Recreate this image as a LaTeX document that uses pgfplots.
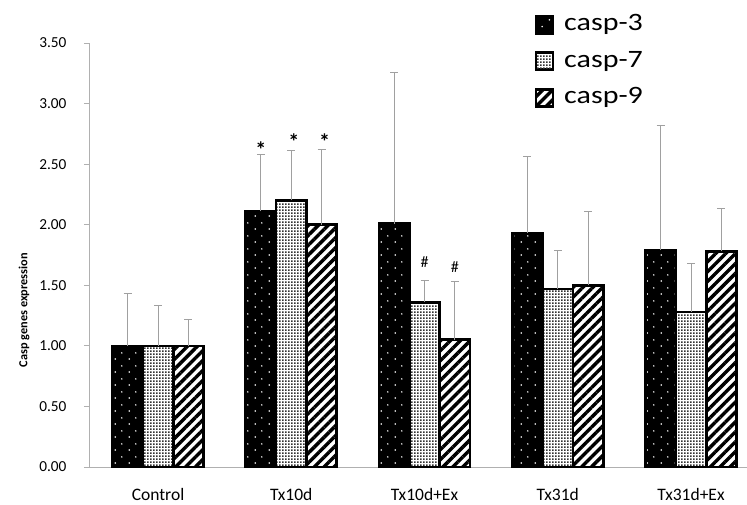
\documentclass[border=0pt]{standalone}
\usepackage{pgfplots}
\usepackage{pgfplotstable}
\pgfplotsset{compat=1.18}
\usetikzlibrary{patterns,patterns.meta}
\usepackage{fontspec}
\setmainfont{Carlito}
\newfontfamily\legfont[FakeStretch=1.2]{Carlito}

\pgfdeclarepatternformonly{sparsedots}{\pgfpointorigin}{\pgfqpoint{14pt}{13pt}}{\pgfqpoint{14pt}{13pt}}{%
  \pgfpathcircle{\pgfqpoint{3.5pt}{3.25pt}}{0.9pt}%
  \pgfpathcircle{\pgfqpoint{10.5pt}{9.75pt}}{0.9pt}%
  \pgfusepath{fill}}
\pgfdeclarepatternformonly{finegrid}{\pgfpointorigin}{\pgfqpoint{3pt}{3pt}}{\pgfqpoint{3pt}{3pt}}{%
  \pgfpathrectangle{\pgfqpoint{0pt}{0pt}}{\pgfqpoint{2pt}{2pt}}%
  \pgfusepath{fill}}

\definecolor{axgray}{HTML}{B0B0B0}
\definecolor{errgray}{HTML}{A0A0A0}

\pgfplotstableread{
x y e
0 1.00 0.43
1 2.11 0.47
2 2.01 1.25
3 1.93 0.63
4 1.79 1.03
}\caspthree
\pgfplotstableread{
x y e
0 1.00 0.33
1 2.20 0.41
2 1.36 0.18
3 1.47 0.32
4 1.28 0.40
}\caspseven
\pgfplotstableread{
x y e
0 1.00 0.22
1 2.00 0.62
2 1.05 0.48
3 1.50 0.61
4 1.78 0.35
}\caspnine

\begin{document}
\begin{tikzpicture}
\useasboundingbox (-89pt,-37pt) rectangle (658pt,467pt);
\begin{axis}[
  scale only axis, width=658pt, height=424pt,
  at={(0pt,0pt)}, anchor=south west,
  ybar=0pt, bar width=30.3pt,
  xmin=-0.518, xmax=4.42, ymin=0, ymax=3.5,
  enlargelimits=false,
  axis x line*=bottom, axis y line*=left,
  axis line style={draw=axgray, line width=0.9pt},
  xtick={0,1,2,3,4},
  xticklabels={Control,Tx10d,Tx10d+Ex,Tx31d,Tx31d+Ex},
  x tick style={draw=none},
  xticklabel style={font=\fontsize{17.5}{20}\selectfont, yshift=-13pt},
  ytick={0,0.5,1,1.5,2,2.5,3,3.5},
  y tick style={draw=axgray, line width=0.9pt},
  tick align=outside, major tick length=5pt,
  yticklabel style={font=\fontsize{15.3}{18}\selectfont, xshift=-14pt},
  /pgf/number format/.cd, fixed, fixed zerofill, precision=2, assume math mode=true,
  /pgfplots/.cd,
  ylabel={Casp genes expression},
  ylabel style={font=\bfseries\fontsize{12.3}{14}\selectfont, at={(axis description cs:-0.0988,0.37)}, anchor=center},
  legend image code/.code={\draw[#1, line width=1.8pt] (0pt,-8pt) rectangle (17pt,9pt); \path (27pt,0pt);},
  legend cell align=left,
  legend style={at={(axis description cs:0.6778,1.069)}, anchor=north west,
    draw=none, fill=none, inner sep=0pt, outer sep=0pt, row sep=13.5pt,
    font=\legfont\fontsize{25}{30}\selectfont,
    nodes={inner sep=0pt, text height=17pt, text depth=6pt}},
  every axis plot/.append style={draw=black, line width=2.7pt,
    error bars/y dir=plus, error bars/y explicit,
    error bars/error bar style={draw=errgray, line width=1pt},
    error bars/error mark options={rotate=90, mark size=4pt, draw=errgray, line width=1pt}},
]
\addplot[preaction={fill=white}, pattern=sparsedots, pattern color=white, preaction={fill=black}] table[x=x, y=y, y error=e] {\caspthree};
\addlegendentry{casp-3}
\addplot[preaction={fill=white}, pattern=finegrid, pattern color=black!80] table[x=x, y=y, y error=e] {\caspseven};
\addlegendentry{casp-7}
\addplot[preaction={fill=white}, pattern={Lines[angle=45,distance=7pt,line width=3.4pt]}, pattern color=black] table[x=x, y=y, y error=e] {\caspnine};
\addlegendentry{casp-9}

\node[font=\bfseries\fontsize{22}{22}\selectfont, anchor=base] at (axis cs:0.7726,2.555) {*};
\node[font=\bfseries\fontsize{22}{22}\selectfont, anchor=base] at (axis cs:1.02,2.62) {*};
\node[font=\bfseries\fontsize{22}{22}\selectfont, anchor=base] at (axis cs:1.25,2.62) {*};
\node[font=\fontsize{16}{16}\selectfont, anchor=base] at (axis cs:2.0,1.645) {\#};
\node[font=\fontsize{16}{16}\selectfont, anchor=base] at (axis cs:2.2274,1.605) {\#};
\end{axis}
\end{tikzpicture}
\end{document}
